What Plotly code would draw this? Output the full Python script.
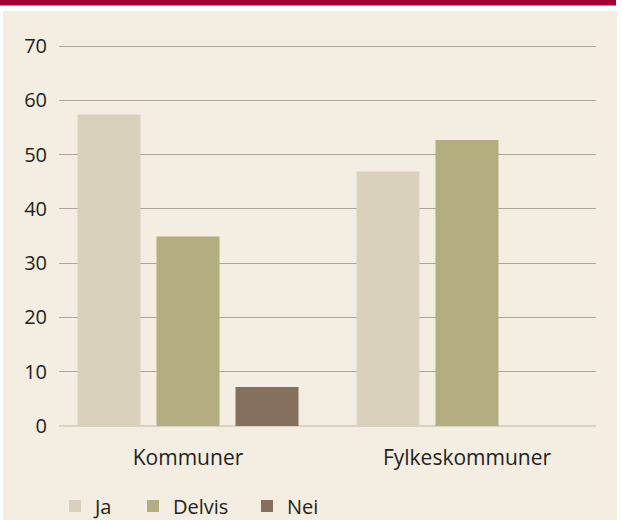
import plotly.graph_objects as go

categories = ["Kommuner", "Fylkeskommuner"]
series_names = ["Ja", "Delvis", "Nei"]
ja_values = [57.4, 46.9]
delvis_values = [34.9, 52.7]
nei_values = [7.2, 0]
y_ticks = [0, 10, 20, 30, 40, 50, 60, 70]

colors = {"Ja": "#D9D1BC", "Delvis": "#B3AD80", "Nei": "#85705E"}
bg = "#F4EEE2"
text_color = "#231F20"
font_family = "Open Sans, Noto Sans, sans-serif"
fsize = 20

W, H = 622, 520
ml, mr, mt, mb = 59, 26, 45, 94
pw, ph = W - ml - mr, H - mt - mb


def px_x(x):
    return (x - ml) / pw


def px_y(y):
    return 1 - (y - mt) / ph


legend_names = ["legend", "legend2", "legend3"]
glyph_centers = [76, 154, 268]

fig = go.Figure()
for name, vals, lg in zip(series_names, [ja_values, delvis_values, nei_values], legend_names):
    fig.add_trace(go.Bar(
        x=categories, y=vals, name=name, legend=lg,
        marker=dict(color=colors[name], line=dict(width=0)),
        hoverinfo="x+y+name",
    ))

shapes = [
    dict(type="rect", xref="paper", yref="paper", x0=px_x(0), x1=px_x(W), y0=px_y(0), y1=px_y(11),
         fillcolor="white", line=dict(width=0), layer="below"),
    dict(type="rect", xref="paper", yref="paper", x0=px_x(0), x1=px_x(3), y0=px_y(0), y1=px_y(H),
         fillcolor="white", line=dict(width=0), layer="below"),
    dict(type="rect", xref="paper", yref="paper", x0=px_x(617), x1=px_x(W), y0=px_y(0), y1=px_y(H),
         fillcolor="white", line=dict(width=0), layer="below"),
    dict(type="rect", xref="paper", yref="paper", x0=px_x(0), x1=px_x(616), y0=px_y(0), y1=px_y(5.5),
         fillcolor="#A50034", line=dict(width=0), layer="below"),
]

legend_common = dict(orientation="h", yanchor="middle", y=px_y(506), xanchor="left",
                     font=dict(size=fsize, color=text_color, family=font_family),
                     bgcolor="rgba(0,0,0,0)", borderwidth=0)
legends = {}
for lg, c in zip(legend_names, glyph_centers):
    legends[lg] = dict(legend_common, x=px_x(c - 21))

fig.update_layout(
    width=W, height=H,
    margin=dict(l=ml, r=mr, t=mt, b=mb, pad=0, autoexpand=False),
    paper_bgcolor=bg, plot_bgcolor=bg,
    font=dict(family=font_family, size=fsize, color=text_color),
    barmode="group", bargap=0.1505, bargroupgap=0.2025,
    shapes=shapes,
    showlegend=True,
    xaxis=dict(range=[-0.4624, 1.4624], showgrid=False, zeroline=False, showline=False,
               ticks="", ticklabelstandoff=17, tickfont=dict(size=21, color=text_color)),
    yaxis=dict(range=[0, 70.2], tickvals=y_ticks, showgrid=True, gridcolor="#B0A494", gridwidth=1.3,
               zeroline=True, zerolinecolor="#DAD2C1", zerolinewidth=2, showline=False,
               ticks="", ticklabelstandoff=11, tickfont=dict(size=fsize, color=text_color)),
    **legends,
)

fig.write_html("out.html", config={"displayModeBar": False},
               post_script="document.body.style.margin='0';document.body.style.padding='0';")
